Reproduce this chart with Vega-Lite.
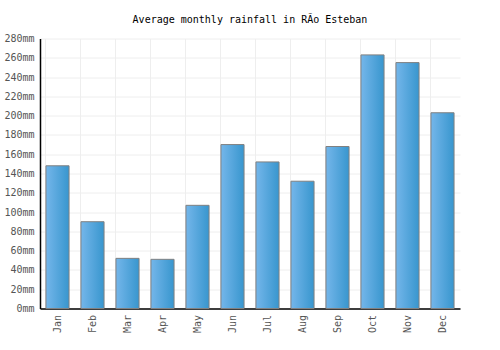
{
  "$schema": "https://vega.github.io/schema/vega-lite/v6.json",
  "width": 420,
  "height": 270,
  "autosize": "none",
  "padding": {"left": 40, "top": 38.5, "right": 40, "bottom": 42},
  "background": "white",
  "title": {
    "text": "Average monthly rainfall in R\u00c3\u00ado Esteban",
    "font": "DejaVu Sans Mono",
    "fontSize": 10,
    "fontWeight": "normal",
    "color": "#000000",
    "anchor": "middle",
    "offset": 9
  },
  "data": {
    "values": [
      {"month": "Jan", "rain": 148},
      {"month": "Feb", "rain": 90},
      {"month": "Mar", "rain": 52},
      {"month": "Apr", "rain": 51},
      {"month": "May", "rain": 107},
      {"month": "Jun", "rain": 170},
      {"month": "Jul", "rain": 152},
      {"month": "Aug", "rain": 132},
      {"month": "Sep", "rain": 168},
      {"month": "Oct", "rain": 263},
      {"month": "Nov", "rain": 255},
      {"month": "Dec", "rain": 203}
    ]
  },
  "mark": {
    "type": "bar",
    "stroke": "#808080",
    "strokeWidth": 1,
    "color": {
      "gradient": "linear",
      "x1": 0, "x2": 1, "y1": 0, "y2": 0,
      "stops": [
        {"offset": 0, "color": "#74b6ea"},
        {"offset": 1, "color": "#3896ce"}
      ]
    }
  },
  "encoding": {
    "x": {
      "field": "month",
      "type": "nominal",
      "sort": null,
      "scale": {"paddingInner": 0.34, "paddingOuter": 0.17},
      "axis": {
        "title": null,
        "labelAngle": -90,
        "labelFont": "DejaVu Sans Mono",
        "labelFontSize": 10,
        "labelColor": "#555555",
        "labelPadding": 6,
        "ticks": false,
        "domainColor": "#000000",
        "domainWidth": 1.5,
        "grid": true,
        "gridColor": "#eeeeee",
        "bandPosition": 0
      }
    },
    "y": {
      "field": "rain",
      "type": "quantitative",
      "scale": {"domain": [0, 280], "nice": false},
      "axis": {
        "title": null,
        "values": [0, 20, 40, 60, 80, 100, 120, 140, 160, 180, 200, 220, 240, 260, 280],
        "labelExpr": "datum.value + 'mm'",
        "labelFont": "DejaVu Sans Mono",
        "labelFontSize": 10,
        "labelColor": "#555555",
        "labelPadding": 6,
        "ticks": false,
        "domainColor": "#000000",
        "domainWidth": 1.5,
        "gridColor": "#eeeeee"
      }
    }
  },
  "config": {"view": {"stroke": null}}
}
